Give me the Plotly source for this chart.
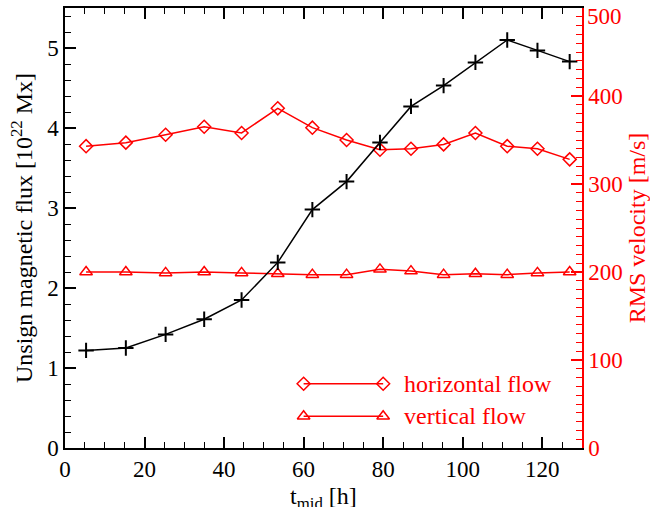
import plotly.graph_objects as go

# ---- data ----
t_mid = [5.3, 15.3, 25.3, 35.0, 44.4, 53.5, 62.2, 70.8, 79.2, 87.0, 95.2, 103.2, 111.2, 118.8, 126.9]
flux = [1.22, 1.25, 1.42, 1.61, 1.85, 2.32, 2.98, 3.33, 3.82, 4.27, 4.53, 4.82, 5.10, 4.97, 4.83]
v_horizontal = [343, 347, 356, 365, 358, 386, 364, 350, 339, 340, 345, 358, 343, 340, 328]
v_vertical = [200, 200, 199, 200, 199, 198, 197, 197, 203, 201, 197, 198, 197, 199, 200]

legend_labels = ["horizontal flow", "vertical flow"]
right_tickvals = [0, 100, 200, 300, 400]
right_top_label = 500

# ---- style / layout constants ----
FONT = "'Liberation Serif', 'Times New Roman', Tinos, 'DejaVu Serif', serif"
RED = "#ff0000"
TICK_SIZE = 23
TITLE_SIZE = 24
LEG_X = [60, 80]          # legend sample line span (x units)
LEG_TEXT_X = 84.8
LEG_Y = [73, 36]          # legend rows (right-axis units)

fig = go.Figure()

# red series on primary (right) axis -> drawn below black curve
fig.add_trace(go.Scatter(x=t_mid, y=v_horizontal, mode="lines+markers",
                         line=dict(color=RED, width=1.5),
                         marker=dict(symbol="diamond-open", size=10, color=RED,
                                     line=dict(width=1.5, color=RED)),
                         xaxis="x", yaxis="y", showlegend=False))
fig.add_trace(go.Scatter(x=t_mid, y=v_vertical, mode="lines+markers",
                         line=dict(color=RED, width=1.5),
                         marker=dict(symbol="triangle-up-open", size=11, color=RED,
                                     line=dict(width=1.5, color=RED)),
                         xaxis="x", yaxis="y", showlegend=False))

# legend samples
for sym, yy, sz in [("diamond-open", LEG_Y[0], 10), ("triangle-up-open", LEG_Y[1], 11)]:
    fig.add_trace(go.Scatter(x=LEG_X, y=[yy, yy], mode="lines+markers",
                             line=dict(color=RED, width=1.5),
                             marker=dict(symbol=sym, size=sz, color=RED,
                                         line=dict(width=1.5, color=RED)),
                             xaxis="x", yaxis="y", showlegend=False, hoverinfo="skip"))

# black flux curve on overlay (left) axis
fig.add_trace(go.Scatter(x=t_mid, y=flux, mode="lines+markers",
                         line=dict(color="black", width=1.5),
                         marker=dict(symbol="cross-thin-open", size=11, color="black",
                                     line=dict(width=2, color="black")),
                         xaxis="x", yaxis="y2", showlegend=False))

for lab, yy in zip(legend_labels, LEG_Y):
    fig.add_annotation(x=LEG_TEXT_X, y=yy, xref="x", yref="y", text=lab,
                       showarrow=False, xanchor="left", yanchor="middle",
                       font=dict(family=FONT, size=TITLE_SIZE, color=RED))

# top label of right axis (sits just inside the frame, as in the reference)
fig.add_annotation(x=1, y=right_top_label, xref="paper", yref="y", text=str(right_top_label),
                   showarrow=False, xanchor="left", yanchor="middle", xshift=3, yshift=-8,
                   font=dict(family=FONT, size=TICK_SIZE, color=RED))

# x-axis title
fig.add_annotation(x=0.5, y=0, xref="paper", yref="paper", text="t<sub>mid</sub> [h]",
                   showarrow=False, xanchor="center", yanchor="middle", yshift=-50,
                   font=dict(family=FONT, size=TITLE_SIZE, color="black"))

fig.update_layout(
    width=650, height=507,
    margin=dict(l=65, r=68, t=8, b=59),
    paper_bgcolor="white", plot_bgcolor="white",
    font=dict(family=FONT, size=TICK_SIZE, color="black"),
    showlegend=False,
    xaxis=dict(range=[0, 130], dtick=20, tick0=0, ticks="inside", ticklen=11,
               tickwidth=1.5, tickcolor="black", automargin=False,
               minor=dict(dtick=5, ticks="inside", ticklen=6, tickwidth=1.2, tickcolor="black"),
               showline=True, linecolor="black", linewidth=1.5, mirror="ticks",
               showgrid=False, zeroline=False,
               tickfont=dict(family=FONT, size=TICK_SIZE, color="black")),
    yaxis=dict(range=[0, 500], tickvals=right_tickvals, side="right", ticks="inside",
               ticklen=11, tickwidth=1.5, tickcolor=RED, automargin=False,
               minor=dict(dtick=10, tick0=0, ticks="inside", ticklen=6, tickwidth=1.2, tickcolor=RED),
               showline=True, linecolor=RED, linewidth=1.5,
               showgrid=False, zeroline=False,
               tickfont=dict(family=FONT, size=TICK_SIZE, color=RED),
               title=dict(text="RMS velocity [m/s]", standoff=14,
                          font=dict(family=FONT, size=TITLE_SIZE, color=RED))),
    yaxis2=dict(range=[0, 5.5], dtick=1, tick0=0, side="left", overlaying="y",
                ticks="inside", ticklen=11, tickwidth=1.5, tickcolor="black",
                automargin=False,
                minor=dict(dtick=0.2, ticks="inside", ticklen=6, tickwidth=1.2, tickcolor="black"),
                showline=True, linecolor="black", linewidth=1.5,
                showgrid=False, zeroline=False,
                tickfont=dict(family=FONT, size=TICK_SIZE, color="black"),
                title=dict(text="Unsign magnetic flux [10<sup>22</sup> Mx]", standoff=8,
                           font=dict(family=FONT, size=TITLE_SIZE, color="black"))),
)

fig.write_html("out.html")
